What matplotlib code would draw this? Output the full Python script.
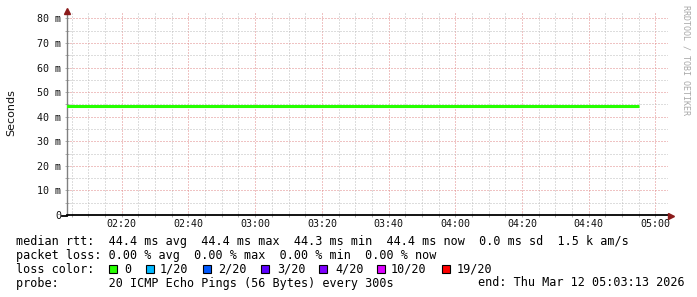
import matplotlib
matplotlib.use("Agg")
import matplotlib.pyplot as plt
import matplotlib.dates as mdates
import matplotlib.patches as mpatches
from matplotlib.ticker import MultipleLocator, FuncFormatter
from datetime import datetime, timedelta

# ---------------- data ----------------
start_time = datetime(2026, 3, 12, 2, 0)
step_minutes = 5
median_rtt_ms = [44.4, 44.4, 44.4, 44.4, 44.4, 44.4, 44.4, 44.4, 44.4, 44.4,
                 44.4, 44.4, 44.4, 44.4, 44.4, 44.3, 44.4, 44.4, 44.4, 44.4,
                 44.4, 44.4, 44.4, 44.4, 44.4, 44.4, 44.4, 44.4, 44.4, 44.4,
                 44.4, 44.4, 44.4, 44.4, 44.4, 44.4]
times = [start_time + timedelta(minutes=step_minutes * i) for i in range(len(median_rtt_ms))]
x_start = datetime(2026, 3, 12, 2, 3, 36)
x_end = datetime(2026, 3, 12, 5, 3, 45)
y_max_ms = 82.2

loss_labels = ["0", "1/20", "2/20", "3/20", "4/20", "10/20", "19/20"]
loss_colors = ["#26ff00", "#00b8ff", "#0059ff", "#5e00ff", "#7e00ff", "#dd00ff", "#ff0000"]

legend_line1 = "median rtt:  44.4 ms avg  44.4 ms max  44.3 ms min  44.4 ms now  0.0 ms sd  1.5 k am/s"
legend_line2 = "packet loss: 0.00 % avg  0.00 % max  0.00 % min  0.00 % now"
legend_line3 = "loss color:"
legend_line4 = "probe:       20 ICMP Echo Pings (56 Bytes) every 300s"
end_text = "end: Thu Mar 12 05:03:13 2026"
watermark = "RRDTOOL / TOBI OETIKER"

# ---------------- figure ----------------
W, H = 697, 297
fig = plt.figure(figsize=(W / 100, H / 100), dpi=100)
fig.patch.set_facecolor("white")

def fx(px):
    return px / W

def fy(py):
    return 1 - py / H

ax = fig.add_axes([fx(67), fy(215), fx(668) - fx(67), fy(13) - fy(215)])
ax.set_facecolor("white")

ax.plot(times, median_rtt_ms, drawstyle="steps-pre", color="#26ff00", lw=2.2,
        solid_capstyle="butt", zorder=3)

ax.set_xlim(x_start, x_end)
ax.set_ylim(0, y_max_ms)

# grid
ax.xaxis.set_major_locator(mdates.MinuteLocator(byminute=[0, 20, 40]))
ax.xaxis.set_minor_locator(mdates.MinuteLocator(byminute=range(0, 60, 5)))
ax.xaxis.set_major_formatter(mdates.DateFormatter("%H:%M"))
ax.yaxis.set_major_locator(MultipleLocator(10))
ax.yaxis.set_minor_locator(MultipleLocator(5))
ax.yaxis.set_major_formatter(FuncFormatter(lambda v, p: "0" if abs(v) < 1e-9 else f"{v:.0f} m"))

ax.grid(which="minor", color="#bcbcbc", linestyle=(0, (1, 2)), lw=0.72, zorder=0)
ax.grid(which="major", color="#e08888", linestyle=(0, (1, 2)), lw=0.72, zorder=1)
ax.set_axisbelow(True)

for s in ["top", "right"]:
    ax.spines[s].set_visible(False)
ax.spines["left"].set_color("#808080")
ax.spines["left"].set_linewidth(1.0)
ax.spines["bottom"].set_color("#000000")
ax.spines["bottom"].set_linewidth(1.3)

mono = "DejaVu Sans Mono"
ax.tick_params(axis="both", which="both", direction="inout", color="#b0b0b0", width=0.72)
ax.tick_params(axis="both", which="major", length=3)
ax.tick_params(axis="both", which="minor", length=3)
ax.tick_params(axis="x", which="major", pad=1.5, labelsize=7.2)
ax.tick_params(axis="y", which="major", pad=2.8, labelsize=7.2)
for lab in ax.get_xticklabels() + ax.get_yticklabels():
    lab.set_family(mono)
    lab.set_color("#111111")

# extend x-axis a bit left of the y axis
ax.plot([fx(62), fx(67)], [fy(215.5), fy(215.5)], transform=fig.transFigure,
        color="black", lw=1.3, clip_on=False, zorder=5)

# arrows
ax.plot([fx(671)], [fy(215.5)], transform=fig.transFigure, marker=">", color="#8b1a1a",
        markersize=4.5, clip_on=False, zorder=6)
ax.plot([fx(67)], [fy(11)], transform=fig.transFigure, marker="^", color="#8b1a1a",
        markersize=4.5, clip_on=False, zorder=6)

# y label
fig.text(fx(11), fy(113), "Seconds", rotation=90, ha="center", va="center",
         family="DejaVu Sans", fontsize=8, color="#111111")

# watermark
fig.text(fx(686), fy(5), watermark, rotation=270, ha="center", va="top",
         family=mono, fontsize=6, color="#a8a8a8")

# legend text
fs = 8.5
fig.text(fx(15.5), fy(245), legend_line1, family=mono, fontsize=fs, va="baseline", ha="left")
fig.text(fx(15.5), fy(259), legend_line2, family=mono, fontsize=fs, va="baseline", ha="left")
fig.text(fx(15.5), fy(273), legend_line3, family=mono, fontsize=fs, va="baseline", ha="left")
fig.text(fx(15.5), fy(286.5), legend_line4, family=mono, fontsize=fs, va="baseline", ha="left")
fig.text(fx(478), fy(286.5), end_text, family=mono, fontsize=fs, va="baseline", ha="left")

box_x = [109, 146, 203, 261, 319, 377, 442]
label_x = [124, 160, 218, 277, 335, 391, 457]
for bx, lx, lab, col in zip(box_x, label_x, loss_labels, loss_colors):
    fig.patches.append(mpatches.Rectangle((fx(bx), fy(273)), fx(8), 8 / H,
                                          transform=fig.transFigure, facecolor=col,
                                          edgecolor="black", lw=0.8))
    fig.text(fx(lx), fy(273), lab, family=mono, fontsize=fs, va="baseline", ha="left")

fig.savefig("out.png", dpi=100, facecolor="white")
